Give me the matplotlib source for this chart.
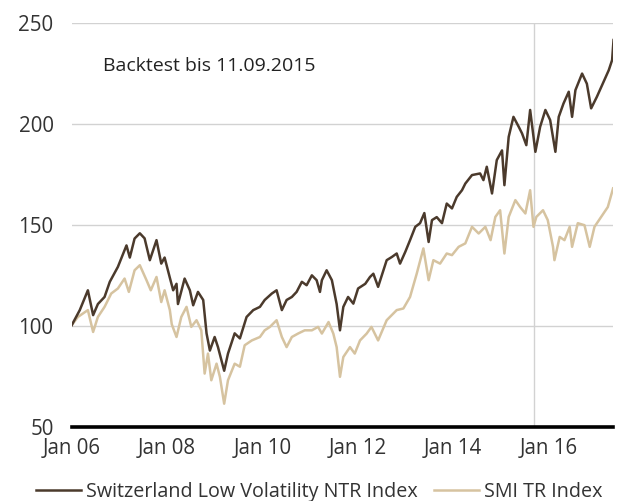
import matplotlib
matplotlib.use("Agg")
import matplotlib.pyplot as plt

plt.rcParams['font.family'] = ['Open Sans', 'DejaVu Sans']

# Switzerland Low Volatility NTR Index (decimal year)
lv_years = [2006.00, 2006.17, 2006.34, 2006.45, 2006.55, 2006.69, 2006.80, 2006.97,
            2007.15, 2007.22, 2007.32, 2007.43, 2007.53, 2007.64, 2007.78, 2007.88,
            2007.95, 2008.06, 2008.13, 2008.20, 2008.23, 2008.37, 2008.48, 2008.55,
            2008.65, 2008.76, 2008.83, 2008.90, 2009.00, 2009.07, 2009.20, 2009.28,
            2009.42, 2009.53, 2009.67, 2009.81, 2009.95, 2010.05, 2010.20, 2010.30,
            2010.41, 2010.51, 2010.62, 2010.72, 2010.83, 2010.93, 2011.04, 2011.14,
            2011.21, 2011.25, 2011.35, 2011.46, 2011.56, 2011.63, 2011.70, 2011.80,
            2011.91, 2012.01, 2012.16, 2012.26, 2012.33, 2012.43, 2012.61, 2012.72,
            2012.82, 2012.89, 2013.00, 2013.10, 2013.21, 2013.31, 2013.40, 2013.49,
            2013.56, 2013.66, 2013.77, 2013.87, 2013.98, 2014.08, 2014.19, 2014.26,
            2014.40, 2014.57, 2014.64, 2014.71, 2014.82, 2014.92, 2015.03, 2015.08,
            2015.17, 2015.27, 2015.38, 2015.45, 2015.54, 2015.62, 2015.73, 2015.83,
            2015.94, 2016.04, 2016.15, 2016.22, 2016.32, 2016.43, 2016.50, 2016.57,
            2016.71, 2016.81, 2016.90, 2017.02, 2017.13, 2017.27, 2017.34, 2017.37]
lv_values = [100.5, 108.0, 117.8, 105.5, 111.0, 114.5, 122.0, 129.4,
             140.0, 134.0, 143.4, 146.0, 143.5, 132.7, 142.6, 131.0,
             134.0, 124.0, 117.8, 121.0, 111.0, 123.6, 117.8, 110.4,
             117.0, 113.0, 96.5, 88.0, 94.7, 89.7, 78.0, 86.5,
             96.5, 94.0, 104.6, 108.0, 109.6, 113.0, 116.2, 117.8,
             108.0, 113.0, 114.5, 117.0, 122.0, 120.3, 125.2, 122.8,
             117.0, 122.8, 127.7, 122.8, 111.0, 98.0, 109.6, 114.5,
             111.2, 118.7, 121.0, 124.4, 126.0, 119.5, 132.7, 134.3,
             136.0, 131.0, 136.8, 142.6, 149.2, 151.0, 156.0, 141.7,
             152.5, 154.0, 151.0, 160.7, 158.3, 164.0, 167.3, 170.6,
             174.8, 175.6, 172.3, 178.9, 165.7, 182.2, 187.0, 169.8,
             193.7, 203.6, 198.7, 195.4, 189.6, 207.0, 186.3, 198.7,
             207.0, 202.0, 186.3, 203.6, 210.2, 216.0, 203.6, 216.8,
             225.0, 220.0, 207.8, 213.5, 219.3, 226.7, 231.7, 241.6]

# SMI TR Index
smi_years = [2006.00, 2006.13, 2006.34, 2006.45, 2006.55, 2006.69, 2006.83, 2006.97,
             2007.11, 2007.20, 2007.32, 2007.43, 2007.57, 2007.66, 2007.78, 2007.88,
             2007.95, 2008.06, 2008.10, 2008.20, 2008.30, 2008.41, 2008.51, 2008.62,
             2008.72, 2008.79, 2008.86, 2008.93, 2009.04, 2009.11, 2009.20, 2009.28,
             2009.42, 2009.53, 2009.63, 2009.78, 2009.95, 2010.05, 2010.16, 2010.30,
             2010.41, 2010.51, 2010.62, 2010.75, 2010.89, 2011.04, 2011.17, 2011.25,
             2011.39, 2011.49, 2011.56, 2011.63, 2011.70, 2011.84, 2011.94, 2012.05,
             2012.19, 2012.29, 2012.43, 2012.61, 2012.82, 2012.96, 2013.10, 2013.24,
             2013.38, 2013.49, 2013.59, 2013.73, 2013.87, 2013.98, 2014.12, 2014.26,
             2014.40, 2014.54, 2014.68, 2014.79, 2014.89, 2014.99, 2015.08, 2015.17,
             2015.31, 2015.41, 2015.52, 2015.62, 2015.69, 2015.75, 2015.89, 2015.99,
             2016.10, 2016.13, 2016.24, 2016.34, 2016.45, 2016.50, 2016.62, 2016.76,
             2016.87, 2016.97, 2017.11, 2017.25, 2017.36]
smi_values = [100.5, 104.6, 108.0, 97.2, 104.6, 109.6, 116.2, 118.7,
              123.6, 117.0, 127.7, 130.2, 122.8, 117.8, 124.4, 112.0,
              117.8, 108.0, 101.0, 94.7, 104.6, 109.6, 99.7, 103.0,
              98.0, 76.6, 86.5, 73.3, 81.5, 75.0, 61.7, 73.3,
              81.5, 80.0, 90.6, 93.0, 94.7, 98.0, 99.7, 103.0,
              94.7, 89.7, 94.7, 96.4, 98.0, 98.0, 99.7, 96.4,
              102.1, 96.4, 89.7, 75.0, 84.8, 89.7, 86.5, 93.0,
              96.4, 99.7, 93.0, 103.0, 108.0, 108.8, 114.5, 126.0,
              138.5, 122.8, 132.7, 131.0, 136.0, 135.2, 139.3, 141.0,
              149.2, 145.9, 149.2, 142.6, 154.1, 157.4, 136.0, 154.1,
              162.4, 159.0, 155.8, 167.3, 149.2, 154.1, 157.4, 152.5,
              139.3, 132.7, 144.2, 142.6, 149.2, 139.3, 151.0, 150.0,
              139.3, 149.2, 154.1, 159.0, 168.2]

tick_years = [2006, 2008, 2010, 2012, 2014, 2016]
tick_labels = ['Jan 06', 'Jan 08', 'Jan 10', 'Jan 12', 'Jan 14', 'Jan 16']
y_ticks = [50, 100, 150, 200, 250]
backtest_end = 2015 + (8 + 10 / 30) / 12   # 11.09.2015

dark = '#4b3a2c'
beige = '#d6c3a0'
text_col = '#333333'

fig = plt.figure(figsize=(6.2, 5.01), dpi=100)
ax = fig.add_axes([0.1156, 0.147, 0.8736, 0.807])

for y in y_ticks[1:]:
    ax.axhline(y, color='#d2d2d2', lw=1.0, zorder=1)
ax.axvline(backtest_end, color='#d2d2d2', lw=1.0, zorder=1)

ax.plot(smi_years, smi_values, color=beige, lw=1.8, label='SMI TR Index', zorder=2)
ax.plot(lv_years, lv_values, color=dark, lw=1.8,
        label='Switzerland Low Volatility NTR Index', zorder=3)

ax.set_xlim(2006.0, 2017.365)
ax.set_ylim(50, 250)
ax.set_xticks(tick_years)
ax.set_xticklabels(tick_labels)
ax.set_yticks(y_ticks)

for s in ['top', 'right', 'left']:
    ax.spines[s].set_visible(False)
ax.spines['bottom'].set_linewidth(2.6)
ax.spines['bottom'].set_color('black')
ax.spines['bottom'].set_zorder(4)

ax.tick_params(axis='both', length=0, labelsize=14.8, colors=text_col)
ax.tick_params(axis='y', pad=13)
ax.tick_params(axis='x', pad=8)

ax.text(0.057, 0.893, 'Backtest bis 11.09.2015', transform=ax.transAxes,
        fontsize=14, color='#222222', va='center', ha='left')

handles, labels = ax.get_legend_handles_labels()
fig.legend(handles[::-1], labels[::-1], loc='center', bbox_to_anchor=(0.515, 0.018),
           ncol=2, frameon=False, fontsize=14.2, handlelength=2.3, handletextpad=0.25,
           columnspacing=0.8, labelcolor=text_col)

fig.savefig('out.png', dpi=100)
